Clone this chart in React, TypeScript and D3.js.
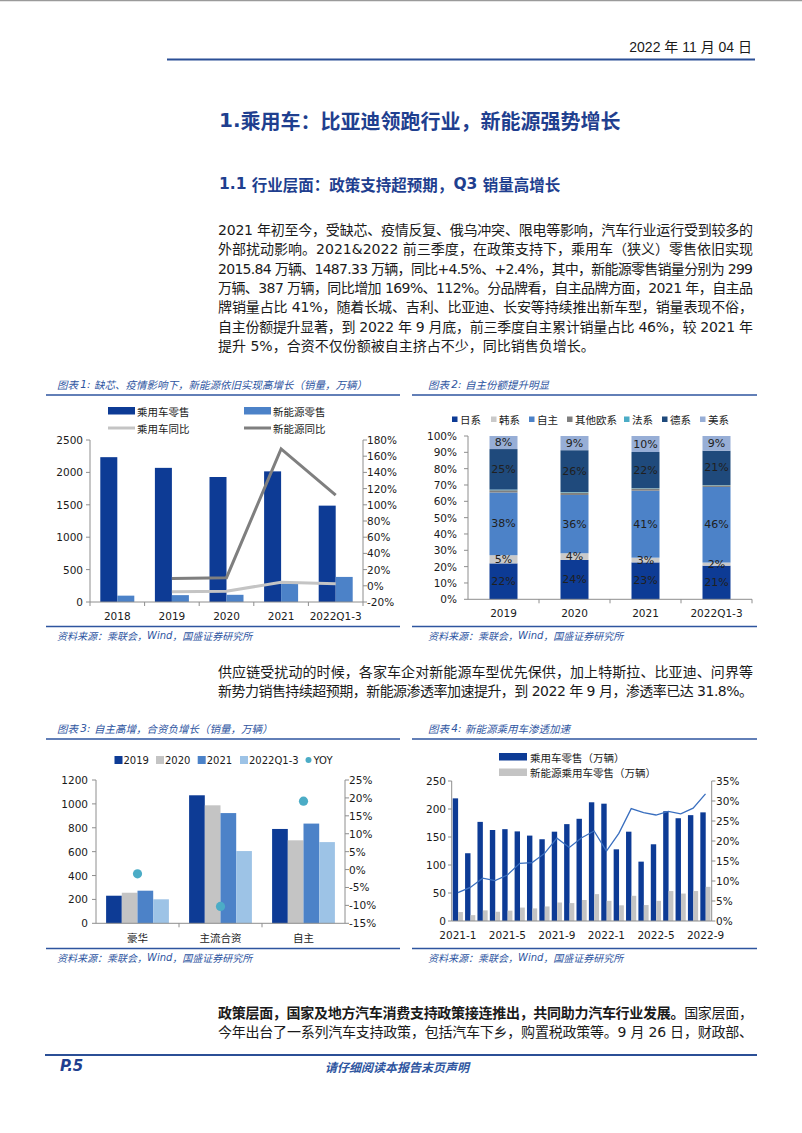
import React from 'react';
import * as d3 from 'd3';

// ---------- Data ----------
const c1Years = ['2018', '2019', '2020', '2021', '2022Q1-3'];
const c1Retail = [2235, 2070, 1929, 2016, 1487];
const c1NEV = [98, 106, 111, 299, 387];
const c1RetailYoY: (number | null)[] = [null, -7.4, -6.8, 4.5, 2.4];
const c1NEVYoY: (number | null)[] = [null, 9, 10, 169, 112];
const c1LeftTicks = [0, 500, 1000, 1500, 2000, 2500];
const c1RightTicks = [-20, 0, 20, 40, 60, 80, 100, 120, 140, 160, 180];

const c2Years = ['2019', '2020', '2021', '2022Q1-3'];
const c2Names = ['日系', '韩系', '自主', '其他欧系', '法系', '德系', '美系'];
const c2Japan = [22, 24.1, 22.6, 20.6];
const c2Korea = [5, 4.1, 2.9, 1.9];
const c2Own = [38.4, 35.7, 41.0, 46.3];
const c2OtherEU = [1.4, 1.5, 1.4, 1.0];
const c2France = [0.4, 0.3, 0.2, 0.2];
const c2Germany = [24.8, 25.6, 22.1, 21.0];
const c2USA = [8, 8.7, 9.8, 9.0];
const c2Labeled = ['日系', '韩系', '自主', '德系', '美系'];
const c2Ticks = [0, 10, 20, 30, 40, 50, 60, 70, 80, 90, 100];

const c3Cats = ['豪华', '主流合资', '自主'];
const c3Series = ['2019', '2020', '2021', '2022Q1-3'];
const c3v2019 = [231, 1072, 790];
const c3v2020 = [256, 988, 695];
const c3v2021 = [273, 923, 835];
const c3v2022 = [201, 605, 680];
const c3YoY = [-1.2, -10.3, 19.1];
const c3LeftTicks = [0, 200, 400, 600, 800, 1000, 1200];
const c3RightTicks = [-15, -10, -5, 0, 5, 10, 15, 20, 25];

const c4Months = ['2021-1', '2021-2', '2021-3', '2021-4', '2021-5', '2021-6', '2021-7', '2021-8', '2021-9', '2021-10', '2021-11', '2021-12',
  '2022-1', '2022-2', '2022-3', '2022-4', '2022-5', '2022-6', '2022-7', '2022-8', '2022-9'];
const c4Retail = [219, 121, 177, 162.5, 164, 160, 152.5, 146, 159.5, 173, 182.5, 212, 209.5, 128, 159.5, 106, 137, 196, 183.5, 189, 194];
const c4NEV = [16, 10.5, 19, 16.5, 18.5, 24, 22.5, 26, 33, 32, 37.5, 48, 36, 28, 45, 28.5, 36, 53.5, 49, 53.5, 61];
const c4Pen = [7.1, 8.4, 10.7, 10.1, 11.5, 14.4, 14.6, 16.9, 20.7, 18.4, 20.8, 22.5, 17.5, 21.9, 28.1, 27.1, 26.5, 27.4, 26.8, 28.2, 31.8];
const c4XLabels = ['2021-1', '2021-5', '2021-9', '2022-1', '2022-5', '2022-9'];
const c4LeftTicks = [0, 50, 100, 150, 200, 250];
const c4RightTicks = [0, 5, 10, 15, 20, 25, 30, 35];

const para1 = [
  '2021 年初至今，受缺芯、疫情反复、俄乌冲突、限电等影响，汽车行业运行受到较多的',
  '外部扰动影响。2021&2022 前三季度，在政策支持下，乘用车（狭义）零售依旧实现',
  '2015.84 万辆、1487.33 万辆，同比+4.5%、+2.4%，其中，新能源零售销量分别为 299',
  '万辆、387 万辆，同比增加 169%、112%。分品牌看，自主品牌方面，2021 年，自主品',
  '牌销量占比 41%，随着长城、吉利、比亚迪、长安等持续推出新车型，销量表现不俗，',
  '自主份额提升显著，到 2022 年 9 月底，前三季度自主累计销量占比 46%，较 2021 年',
  '提升 5%，合资不仅份额被自主挤占不少，同比销售负增长。',
];
const para2 = [
  '供应链受扰动的时候，各家车企对新能源车型优先保供，加上特斯拉、比亚迪、问界等',
  '新势力销售持续超预期，新能源渗透率加速提升，到 2022 年 9 月，渗透率已达 31.8%。',
];
const para3Bold = '政策层面，国家及地方汽车消费支持政策接连推出，共同助力汽车行业发展。';
const para3Rest = '国家层面，';
const para3Line2 = '今年出台了一系列汽车支持政策，包括汽车下乡，购置税政策等。9 月 26 日，财政部、';

// ---------- Styles ----------
const DARK = '#0D3B95';
const MID = '#4C82C8';
const LIGHT = '#9DC3E6';
const GRAYL = '#C4C4C4';
const GRAYD = '#7F7F7F';
const TEAL = '#4BACC6';
const NAVY = '#1F4A7C';
const USBLUE = '#97AED6';
const CAP = '#2E559F';
const AXIS = '#8E8E8E';
const TXT = '#1A1A1A';
const NUM = "'DejaVu Sans', 'Noto Sans CJK SC', sans-serif";
const CJK = "'Noto Sans CJK SC', sans-serif";
const BODY = "'DejaVu Sans', 'Noto Sans CJK SC', sans-serif";
const NB = '\u00A0';

const Caption = ({ x, y, num, text, x1, x2 }: any) => (
  <g>
    <text x={x} y={y} fontSize={10.5} fontStyle="italic" fill={CAP} fontFamily={CJK} dominantBaseline="central">
      {'图表' + NB}<tspan fontFamily={NUM}>{num + ':' + NB}</tspan>{text}
    </text>
    <line x1={x1} x2={x2} y1={y + 11} y2={y + 11} stroke={CAP} strokeWidth={1.3} />
  </g>
);
const Source = ({ x, y, x1, x2 }: any) => (
  <g>
    <line x1={x1} x2={x2} y1={y - 8.5} y2={y - 8.5} stroke={CAP} strokeWidth={1.3} />
    <text x={x} y={y} fontSize={10} fontStyle="italic" fill={CAP} fontFamily={CJK} dominantBaseline="central">资料来源：乘联会，<tspan fontFamily={NUM}>Wind</tspan>，国盛证券研究所</text>
  </g>
);

function Chart1() {
  const x = d3.scaleBand<string>().domain(c1Years).range([90, 363]);
  const y = d3.scaleLinear().domain([0, 2500]).range([602, 440]);
  const y2 = d3.scaleLinear().domain([-20, 180]).range([602, 440]);
  const bw = 17;
  const cx = (d: string) => (x(d) as number) + x.bandwidth() / 2;
  const line = d3.line<[string, number | null]>()
    .defined((d) => d[1] !== null)
    .x((d) => cx(d[0]))
    .y((d) => y2(d[1] as number));
  const rPts = c1Years.map((d, i) => [d, c1RetailYoY[i]] as [string, number | null]);
  const nPts = c1Years.map((d, i) => [d, c1NEVYoY[i]] as [string, number | null]);
  return (
    <g>
      <Caption x={57} y={384} x1={46} x2={400} num="1" text="缺芯、疫情影响下，新能源依旧实现高增长（销量，万辆）" />
      <rect x={108} y={407} width={27} height={7.5} fill={DARK} />
      <text x={137} y={411} fontSize={10.5} fontFamily={CJK} fill={TXT} dominantBaseline="central">乘用车零售</text>
      <rect x={244} y={407} width={27} height={7.5} fill={MID} />
      <text x={273} y={411} fontSize={10.5} fontFamily={CJK} fill={TXT} dominantBaseline="central">新能源零售</text>
      <line x1={108} x2={135} y1={428} y2={428} stroke={GRAYL} strokeWidth={3} />
      <text x={137} y={428} fontSize={10.5} fontFamily={CJK} fill={TXT} dominantBaseline="central">乘用车同比</text>
      <line x1={244} x2={271} y1={428} y2={428} stroke={GRAYD} strokeWidth={3} />
      <text x={273} y={428} fontSize={10.5} fontFamily={CJK} fill={TXT} dominantBaseline="central">新能源同比</text>
      {c1Years.map((d, i) => (
        <g key={d}>
          <rect x={cx(d) - bw} y={y(c1Retail[i])} width={bw} height={y(0) - y(c1Retail[i])} fill={DARK} />
          <rect x={cx(d)} y={y(c1NEV[i])} width={bw} height={y(0) - y(c1NEV[i])} fill={MID} />
        </g>
      ))}
      <path d={line(rPts) as string} fill="none" stroke={GRAYL} strokeWidth={3} />
      <path d={line(nPts) as string} fill="none" stroke={GRAYD} strokeWidth={3} />
      <line x1={90} x2={90} y1={440} y2={602} stroke={AXIS} />
      <line x1={363} x2={363} y1={440} y2={602} stroke={AXIS} />
      <line x1={90} x2={363} y1={602} y2={602} stroke={AXIS} />
      {c1Years.map((d) => <line key={d} x1={x(d)} x2={x(d)} y1={602} y2={606} stroke={AXIS} />)}
      <line x1={363} x2={363} y1={602} y2={606} stroke={AXIS} />
      {c1LeftTicks.map((t) => (
        <g key={t}>
          <line x1={86} x2={90} y1={y(t)} y2={y(t)} stroke={AXIS} />
          <text x={83} y={y(t)} textAnchor="end" fontSize={10.5} fontFamily={NUM} fill={TXT} dominantBaseline="central">{t}</text>
        </g>
      ))}
      {c1RightTicks.map((t) => (
        <g key={t}>
          <line x1={363} x2={367} y1={y2(t)} y2={y2(t)} stroke={AXIS} />
          <text x={367} y={y2(t)} fontSize={10.5} fontFamily={NUM} fill={TXT} dominantBaseline="central">{t}%</text>
        </g>
      ))}
      {c1Years.map((d) => (
        <text key={d} x={cx(d)} y={616} textAnchor="middle" fontSize={10.5} fontFamily={NUM} fill={TXT} dominantBaseline="central">{d}</text>
      ))}
      <Source x={57} y={635} x1={46} x2={400} />
    </g>
  );
}

function Chart2() {
  const x = d3.scaleBand<string>().domain(c2Years).range([468, 752]);
  const y = d3.scaleLinear().domain([0, 100]).range([599.3, 436]);
  const seriesVals = [c2Japan, c2Korea, c2Own, c2OtherEU, c2France, c2Germany, c2USA];
  const colors = [DARK, '#C9C9C9', MID, GRAYD, TEAL, NAVY, USBLUE];
  const rows = c2Years.map((yr, i) => {
    const r: any = { year: yr };
    c2Names.forEach((n, k) => { r[n] = seriesVals[k][i]; });
    return r;
  });
  const stacked = d3.stack<any>().keys(c2Names)(rows);
  const bw = 28;
  const legendX = [452, 491, 529, 567, 624, 662, 700];
  return (
    <g>
      <Caption x={428} y={384} x1={412} x2={757} num="2" text="自主份额提升明显" />
      {c2Names.map((n, k) => (
        <g key={n}>
          <rect x={legendX[k]} y={416.5} width={5.5} height={5.5} fill={colors[k]} />
          <text x={legendX[k] + 8} y={419.3} fontSize={10.5} fontFamily={CJK} fill={TXT} dominantBaseline="central">{n}</text>
        </g>
      ))}
      {stacked.map((s, k) => (
        <g key={s.key}>
          {s.map((d, i) => {
            const cx = (x(c2Years[i]) as number) + x.bandwidth() / 2;
            return <rect key={i} x={cx - bw / 2} y={y(d[1])} width={bw} height={y(d[0]) - y(d[1])} fill={colors[k]} />;
          })}
        </g>
      ))}
      {stacked.filter((s) => c2Labeled.includes(s.key)).map((s) => (
        <g key={'l' + s.key}>
          {s.map((d, i) => {
            const cx = (x(c2Years[i]) as number) + x.bandwidth() / 2;
            return (
              <text key={i} x={cx} y={y((d[0] + d[1]) / 2)} textAnchor="middle" fontSize={11} fontFamily={NUM} fill="#202020" dominantBaseline="central">
                {Math.round(d[1] - d[0])}%
              </text>
            );
          })}
        </g>
      ))}
      <line x1={468} x2={468} y1={436} y2={599.3} stroke={AXIS} />
      <line x1={468} x2={752} y1={599.3} y2={599.3} stroke={AXIS} />
      {c2Years.map((d) => <line key={d} x1={(x(d) as number) + x.bandwidth()} x2={(x(d) as number) + x.bandwidth()} y1={599.3} y2={603.3} stroke={AXIS} />)}
      {c2Ticks.map((t) => (
        <g key={t}>
          <line x1={464} x2={468} y1={y(t)} y2={y(t)} stroke={AXIS} />
          <text x={457} y={y(t)} textAnchor="end" fontSize={10.5} fontFamily={NUM} fill={TXT} dominantBaseline="central">{t}%</text>
        </g>
      ))}
      {c2Years.map((d) => (
        <text key={d} x={(x(d) as number) + x.bandwidth() / 2} y={613} textAnchor="middle" fontSize={10.5} fontFamily={NUM} fill={TXT} dominantBaseline="central">{d}</text>
      ))}
      <Source x={428} y={635} x1={412} x2={757} />
    </g>
  );
}

function Chart3() {
  const x0 = d3.scaleBand<string>().domain(c3Cats).range([96, 345]);
  const x1 = d3.scaleBand<string>().domain(c3Series).range([0, 62.8]);
  const y = d3.scaleLinear().domain([0, 1200]).range([923.3, 780]);
  const y2 = d3.scaleLinear().domain([-15, 25]).range([923.3, 780]);
  const vals = [c3v2019, c3v2020, c3v2021, c3v2022];
  const colors = [DARK, GRAYL, MID, LIGHT];
  const legendSq = [114.5, 156, 197.7, 240];
  return (
    <g>
      <Caption x={57} y={728} x1={46} x2={400} num="3" text="自主高增，合资负增长（销量，万辆）" />
      {c3Series.map((s, k) => (
        <g key={s}>
          <rect x={legendSq[k]} y={756} width={8} height={8} fill={colors[k]} />
          <text x={legendSq[k] + 9} y={760.5} fontSize={10} fontFamily={NUM} fill={TXT} dominantBaseline="central">{s}</text>
        </g>
      ))}
      <circle cx={308.5} cy={760} r={3} fill={TEAL} />
      <text x={313.5} y={760.5} fontSize={10} fontFamily={NUM} fill={TXT} dominantBaseline="central">YOY</text>
      {c3Cats.map((c, i) => {
        const cx = (x0(c) as number) + x0.bandwidth() / 2;
        return (
          <g key={c}>
            {c3Series.map((s, k) => (
              <rect key={s} x={cx - 31.4 + (x1(s) as number)} y={y(vals[k][i])} width={x1.bandwidth()} height={y(0) - y(vals[k][i])} fill={colors[k]} />
            ))}
          </g>
        );
      })}
      {c3Cats.map((c, i) => (
        <circle key={c} cx={(x0(c) as number) + x0.bandwidth() / 2} cy={y2(c3YoY[i])} r={4.6} fill={TEAL} />
      ))}
      <line x1={96} x2={96} y1={780} y2={923.3} stroke={AXIS} />
      <line x1={345} x2={345} y1={780} y2={923.3} stroke={AXIS} />
      <line x1={96} x2={345} y1={923.3} y2={923.3} stroke={AXIS} />
      {c3Cats.slice(1).map((c) => <line key={c} x1={x0(c)} x2={x0(c)} y1={923.3} y2={927.3} stroke={AXIS} />)}
      {c3LeftTicks.map((t) => (
        <g key={t}>
          <line x1={92} x2={96} y1={y(t)} y2={y(t)} stroke={AXIS} />
          <text x={88} y={y(t)} textAnchor="end" fontSize={10.5} fontFamily={NUM} fill={TXT} dominantBaseline="central">{t}</text>
        </g>
      ))}
      {c3RightTicks.map((t) => (
        <g key={t}>
          <line x1={345} x2={349} y1={y2(t)} y2={y2(t)} stroke={AXIS} />
          <text x={349} y={y2(t)} fontSize={10.5} fontFamily={NUM} fill={TXT} dominantBaseline="central">{t}%</text>
        </g>
      ))}
      {c3Cats.map((c) => (
        <text key={c} x={(x0(c) as number) + x0.bandwidth() / 2} y={937.7} textAnchor="middle" fontSize={10.5} fontFamily={CJK} fill={TXT} dominantBaseline="central">{c}</text>
      ))}
      <Source x={57} y={957} x1={46} x2={400} />
    </g>
  );
}

function Chart4() {
  const x = d3.scaleBand<string>().domain(c4Months).range([451.7, 711.7]);
  const y = d3.scaleLinear().domain([0, 250]).range([921, 781]);
  const y2 = d3.scaleLinear().domain([0, 35]).range([921, 781]);
  const b = x.bandwidth();
  const line = d3.line<number>().x((_, i) => (x(c4Months[i]) as number) + b / 2).y((d) => y2(d));
  return (
    <g>
      <Caption x={428} y={728} x1={412} x2={757} num="4" text="新能源乘用车渗透加速" />
      <rect x={499} y={753} width={28} height={7.5} fill={DARK} />
      <text x={530} y={757} fontSize={10.5} fontFamily={CJK} fill={TXT} dominantBaseline="central">乘用车零售（万辆）</text>
      <rect x={499} y={768.5} width={28} height={7.5} fill={GRAYL} />
      <text x={530} y={772.5} fontSize={10.5} fontFamily={CJK} fill={TXT} dominantBaseline="central">新能源乘用车零售（万辆）</text>
      {c4Months.map((m, i) => (
        <g key={m}>
          <rect x={(x(m) as number) + 1} y={y(c4Retail[i])} width={5.4} height={y(0) - y(c4Retail[i])} fill={DARK} />
          <rect x={(x(m) as number) + 6.4} y={y(c4NEV[i])} width={4.8} height={y(0) - y(c4NEV[i])} fill={GRAYL} />
        </g>
      ))}
      <path d={line(c4Pen) as string} fill="none" stroke="#3A6FBF" strokeWidth={1.3} />
      <line x1={451.7} x2={451.7} y1={781} y2={921} stroke={AXIS} />
      <line x1={711.7} x2={711.7} y1={781} y2={921} stroke={AXIS} />
      <line x1={451.7} x2={711.7} y1={921} y2={921} stroke={AXIS} />
      {c4LeftTicks.map((t) => (
        <g key={t}>
          <line x1={448} x2={451.7} y1={y(t)} y2={y(t)} stroke={AXIS} />
          <text x={446} y={y(t)} textAnchor="end" fontSize={10.5} fontFamily={NUM} fill={TXT} dominantBaseline="central">{t}</text>
        </g>
      ))}
      {c4RightTicks.map((t) => (
        <g key={t}>
          <line x1={711.7} x2={715.4} y1={y2(t)} y2={y2(t)} stroke={AXIS} />
          <text x={716} y={y2(t)} fontSize={10.5} fontFamily={NUM} fill={TXT} dominantBaseline="central">{t}%</text>
        </g>
      ))}
      {c4XLabels.map((m) => (
        <text key={m} x={(x(m) as number) + b / 2} y={935} textAnchor="middle" fontSize={10.5} fontFamily={NUM} fill={TXT} dominantBaseline="central">{m}</text>
      ))}
      <Source x={428} y={957} x1={412} x2={757} />
    </g>
  );
}

const Para = ({ lines, y0, justifyAll }: any) => (
  <g>
    {lines.map((l: string, i: number) => {
      const justify = justifyAll || i < lines.length - 1;
      return (
        <text key={i} x={218} y={y0 + i * 19.3} fontSize={14} fontFamily={BODY} fill={TXT} dominantBaseline="central"
          {...(justify ? { textLength: 535, lengthAdjust: 'spacing' } : {})}>{l}</text>
      );
    })}
  </g>
);

export default function App() {
  return (
    <svg width={802} height={1133} viewBox="0 0 802 1133" style={{ position: 'absolute', left: 0, top: 0, display: 'block', background: '#fff' }}>
      <rect x={0} y={0} width={802} height={1133} fill="#fff" />
      <line x1={0} x2={802} y1={0.5} y2={0.5} stroke="#9A9A9A" strokeWidth={1.5} />
      <text x={752} y={47} textAnchor="end" fontSize={14} fontFamily="'Liberation Sans Narrow', 'Liberation Sans', 'Noto Sans CJK SC', sans-serif" fill={TXT} dominantBaseline="central">2022 年 11 月 04 日</text>
      <line x1={167} x2={755} y1={59.5} y2={59.5} stroke="#2B4F96" strokeWidth={2} />
      <text x={219} y={120} fontSize={20} fontWeight="bold" fontFamily={CJK} fill="#1F3F8F" dominantBaseline="central">
        <tspan fontFamily={NUM}>1.</tspan>乘用车：比亚迪领跑行业，新能源强势增长
      </text>
      <text x={219} y={184} fontSize={15.5} fontWeight="bold" fontFamily={CJK} fill="#1F3F8F" dominantBaseline="central">
        <tspan fontFamily={NUM}>{'1.1' + NB}</tspan>行业层面：政策支持超预期，<tspan fontFamily={NUM}>{'Q3' + NB}</tspan>销量高增长
      </text>
      <Para lines={para1} y0={230} />
      <Chart1 />
      <Chart2 />
      <Para lines={para2} y0={672} justifyAll />
      <Chart3 />
      <Chart4 />
      <text x={218} y={1013} fontSize={14} fontFamily={BODY} fill={TXT} dominantBaseline="central" textLength={535} lengthAdjust="spacing">
        <tspan fontWeight="bold">{para3Bold}</tspan>{para3Rest}
      </text>
      <text x={218} y={1032.3} fontSize={14} fontFamily={BODY} fill={TXT} dominantBaseline="central" textLength={535} lengthAdjust="spacing">{para3Line2}</text>
      <line x1={45} x2={757} y1={1055} y2={1055} stroke="#2B4F96" strokeWidth={2} />
      <text x={60} y={1066} fontSize={15} fontWeight="bold" fontStyle="italic" fontFamily={NUM} fill="#1F3F8F" dominantBaseline="central">P.5</text>
      <text x={397} y={1066} textAnchor="middle" fontSize={12} fontWeight="bold" fontStyle="italic" fontFamily={CJK} fill="#2E559F" dominantBaseline="central">请仔细阅读本报告末页声明</text>
    </svg>
  );
}
